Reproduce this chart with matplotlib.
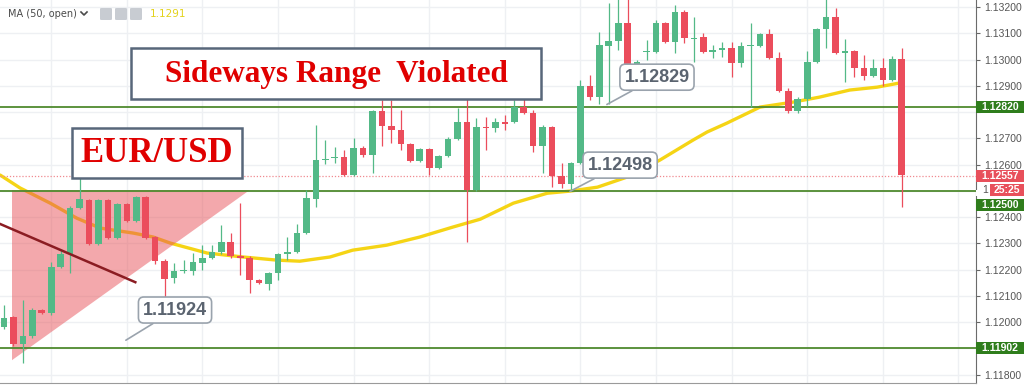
import matplotlib
matplotlib.use('Agg')
import matplotlib.pyplot as plt
from matplotlib.patches import Rectangle, Polygon, FancyBboxPatch
from matplotlib.lines import Line2D

# EUR/USD candles
opens = [
    1.11981, 1.12019, 1.11916, 1.11947, 1.12046, 1.12034, 1.12210, 1.12259, 1.12434, 1.12465,
    1.12297, 1.12465, 1.12320, 1.12450, 1.12385, 1.12476, 1.12324, 1.12232, 1.12168, 1.12194,
    1.12194, 1.12225, 1.12244, 1.12267, 1.12305, 1.12251, 1.12244, 1.12160, 1.12145, 1.12187,
    1.12259, 1.12267, 1.12339, 1.12469, 1.12617, 1.12625, 1.12629, 1.12560, 1.12663, 1.12636,
    1.12804, 1.12747, 1.12732, 1.12678, 1.12613, 1.12659, 1.12587, 1.12632, 1.12697, 1.12762,
    1.12503, 1.12743, 1.12739, 1.12762, 1.12762, 1.12819, 1.12796, 1.12671, 1.12743, 1.12556,
    1.12526, 1.12606, 1.12899, 1.12857, 1.13052, 1.13071, 1.13139, 1.12975, 1.13029, 1.13029,
    1.13139, 1.13067, 1.13181, 1.13080, 1.13086, 1.13029, 1.13036, 1.13044, 1.12987, 1.13050,
    1.13052, 1.13097, 1.13006, 1.12880, 1.12804, 1.12850, 1.12991, 1.13116, 1.13162, 1.13027,
    1.13033, 1.12968, 1.12937, 1.12968, 1.12922, 1.13002]
highs = [
    1.12065, 1.12023, 1.12084, 1.12053, 1.12050, 1.12229, 1.12274, 1.12442, 1.12549, 1.12469,
    1.12469, 1.12469, 1.12453, 1.12453, 1.12480, 1.12480, 1.12328, 1.12240, 1.12225, 1.12236,
    1.12263, 1.12293, 1.12293, 1.12370, 1.12339, 1.12453, 1.12251, 1.12164, 1.12191, 1.12263,
    1.12324, 1.12373, 1.12503, 1.12751, 1.12693, 1.12667, 1.12655, 1.12701, 1.12671, 1.12808,
    1.12846, 1.12846, 1.12808, 1.12682, 1.12663, 1.12663, 1.12636, 1.12705, 1.12815, 1.12872,
    1.12777, 1.12781, 1.12777, 1.12789, 1.12846, 1.12872, 1.12808, 1.12750, 1.12747, 1.12606,
    1.12610, 1.12922, 1.12941, 1.13105, 1.13215, 1.13240, 1.13235, 1.12998, 1.13074, 1.13151,
    1.13143, 1.13208, 1.13190, 1.13162, 1.13101, 1.13055, 1.13067, 1.13067, 1.13067, 1.13139,
    1.13101, 1.13116, 1.13029, 1.12892, 1.12858, 1.13032, 1.13120, 1.13230, 1.13196, 1.13078,
    1.13037, 1.13017, 1.13002, 1.13006, 1.13013, 1.13044]
lows = [
    1.11973, 1.11909, 1.11844, 1.11939, 1.12030, 1.12027, 1.12206, 1.12187, 1.12431, 1.12293,
    1.12293, 1.12316, 1.12316, 1.12381, 1.12381, 1.12316, 1.12221, 1.12091, 1.12149, 1.12187,
    1.12179, 1.12198, 1.12240, 1.12259, 1.12244, 1.12179, 1.12110, 1.12145, 1.12122, 1.12160,
    1.12236, 1.12263, 1.12335, 1.12438, 1.12602, 1.12606, 1.12556, 1.12556, 1.12629, 1.12568,
    1.12671, 1.12682, 1.12655, 1.12609, 1.12609, 1.12560, 1.12583, 1.12628, 1.12693, 1.12305,
    1.12499, 1.12655, 1.12724, 1.12732, 1.12758, 1.12792, 1.12648, 1.12568, 1.12514, 1.12510,
    1.12498, 1.12602, 1.12846, 1.12830, 1.12829, 1.13036, 1.12968, 1.12968, 1.12998, 1.13025,
    1.13063, 1.13025, 1.13063, 1.12991, 1.13025, 1.13006, 1.13010, 1.12933, 1.12972, 1.12819,
    1.13048, 1.13002, 1.12876, 1.12796, 1.12796, 1.12823, 1.12987, 1.13044, 1.13021, 1.12914,
    1.12933, 1.12922, 1.12933, 1.12899, 1.12918, 1.12438]
closes = [
    1.12015, 1.11916, 1.11947, 1.12046, 1.12034, 1.12210, 1.12259, 1.12434, 1.12469, 1.12297,
    1.12465, 1.12320, 1.12450, 1.12385, 1.12476, 1.12320, 1.12232, 1.12164, 1.12194, 1.12198,
    1.12229, 1.12244, 1.12267, 1.12305, 1.12251, 1.12244, 1.12160, 1.12149, 1.12187, 1.12259,
    1.12267, 1.12339, 1.12472, 1.12617, 1.12623, 1.12629, 1.12560, 1.12663, 1.12636, 1.12804,
    1.12747, 1.12732, 1.12678, 1.12613, 1.12659, 1.12587, 1.12632, 1.12697, 1.12762, 1.12503,
    1.12743, 1.12739, 1.12762, 1.12756, 1.12819, 1.12796, 1.12671, 1.12743, 1.12556, 1.12526,
    1.12606, 1.12899, 1.12857, 1.13055, 1.13071, 1.13139, 1.12975, 1.12991, 1.13032, 1.13139,
    1.13067, 1.13181, 1.13082, 1.13082, 1.13029, 1.13036, 1.13044, 1.12987, 1.13052, 1.13052,
    1.13097, 1.13006, 1.12880, 1.12804, 1.12850, 1.12991, 1.13116, 1.13162, 1.13025, 1.13029,
    1.12968, 1.12937, 1.12968, 1.12922, 1.13002, 1.12560]

# MA(50, open) as read at some bars
ma_idx = [-0.4, 1.7, 4.9, 7.7, 10.2, 13.7, 15.8, 17.6, 21.5, 25.3, 28.9, 31.3, 34.5, 36.9,
          40.5, 44.0, 47.5, 50.4, 53.9, 57.5, 59.9, 62.8, 65.9, 69.4, 72.9, 74.4, 76.5,
          80.0, 83.5, 86.3, 89.5, 92.4, 94.8]
ma_val = [1.12560, 1.12511, 1.12453, 1.12396, 1.12358, 1.12339, 1.12324, 1.12301, 1.12263,
          1.12248, 1.12236, 1.12232, 1.12248, 1.12274, 1.12293, 1.12324, 1.12362, 1.12392,
          1.12453, 1.12491, 1.12499, 1.12514, 1.12552, 1.12617, 1.12693, 1.12724, 1.12758,
          1.12819, 1.12838, 1.12857, 1.12884, 1.12895, 1.12911]

yticks = [1.118, 1.119, 1.120, 1.121, 1.122, 1.123, 1.124, 1.125, 1.126, 1.127,
          1.128, 1.129, 1.130, 1.131, 1.132]
hidden_ticks = [1.119, 1.125, 1.128]   # covered by the level labels
levels = [1.12820, 1.12500, 1.11902]
last_price = 1.12557
callouts = [('1.12829', 63.8, 1.12829), ('1.12498', 59.9, 1.12498), ('1.11924', 12.9, 1.11931)]

GREEN = '#53b987'
RED = '#eb4d5c'
W, H = 1024, 385


def fig_xy(px, py):
    # pixel (from top-left) -> figure fraction
    return px / W, 1 - py / H


fig = plt.figure(figsize=(W / 100, H / 100), dpi=100)
ax = fig.add_axes([0, 2 / H, 976 / W, 383 / H])
ax.set_xlim(-0.42, 102.86)
ax.set_ylim(1.11768, 1.13227)

# grid
for t in yticks:
    ax.axhline(t, color='#eef0f3', lw=1, zorder=0)
for g in range(5, 102, 8):
    ax.axvline(g, color='#eef0f3', lw=1, zorder=0)

# MA line (under the triangle so it turns orange there)
ax.plot(ma_idx, ma_val, color='#f5d415', lw=2.4, zorder=1.4, solid_capstyle='round')

# pink triangle + red trendline
tri = Polygon([(0.85, 1.12503), (26.0, 1.12503), (0.85, 1.11855)], closed=True,
              facecolor='#e8535a', alpha=0.5, edgecolor='none', zorder=1.5)
ax.add_patch(tri)
ax.plot([-0.42, 13.9], [1.12374, 1.12152], color='#8b1c22', lw=1.8, zorder=4)

# levels
for lv in levels:
    ax.axhline(lv, color='#4f8a2e', lw=1.3, zorder=2)
ax.axhline(last_price, color='#f08a90', lw=0.9, ls=(0, (1, 1.5)), zorder=2)

# candles
x = list(range(len(opens)))
cols = [GREEN if c >= o else RED for o, c in zip(opens, closes)]
ax.vlines(x, lows, highs, colors=cols, lw=0.9, zorder=3)
bottoms = [min(o, c) for o, c in zip(opens, closes)]
heights = [max(abs(c - o), 0.00004) for o, c in zip(opens, closes)]
ax.bar(x, heights, bottom=bottoms, width=0.7, color=cols, zorder=3.1, linewidth=0)

# right price axis
ax.yaxis.tick_right()
ax.set_yticks(yticks)
ax.set_yticklabels(['' if t in hidden_ticks else '%.5f' % t for t in yticks],
                   family='Liberation Sans')
ax.tick_params(axis='y', labelsize=7.5, colors='#666666', labelcolor='#555555', length=3, pad=3)
ax.set_xticks([])
for s in ['top', 'left']:
    ax.spines[s].set_visible(False)
ax.spines['right'].set_color('#6b6b6b')
ax.spines['bottom'].set_color('#9a9a9a')

# price labels on the axis
trans = ax.get_yaxis_transform()
box_w = (W - 976) / 976
for txt, y, fc in [('1.12820', 1.12820, '#2f7d1c'), ('1.12500', 1.12446, '#2f7d1c'),
                   ('1.11902', 1.11902, '#2f7d1c'), ('1.12557', 1.12557, '#e8505b')]:
    ax.add_patch(Rectangle((1.0, y - 0.00024), box_w, 0.00048, transform=trans,
                           facecolor=fc, edgecolor='none', clip_on=False, zorder=5))
    ax.text(1.0 + box_w / 2, y, txt, transform=trans, ha='center', va='center',
            fontsize=7.5, color='white', fontweight='bold', family='Liberation Sans',
            clip_on=False, zorder=6)
ax.add_patch(Rectangle((1.0, 1.12480), box_w, 0.00025, transform=trans,
                       facecolor='white', edgecolor='none', clip_on=False, zorder=5))
ax.add_patch(Rectangle((1.0 + 14 / 976, 1.12480), box_w - 14 / 976, 0.00046, transform=trans,
                       facecolor='#e8505b', edgecolor='none', clip_on=False, zorder=5))
ax.text(1.0 + 9 / 976, 1.12503, '1', transform=trans, ha='center', va='center',
        fontsize=7.5, color='#555555', family='Liberation Sans', clip_on=False, zorder=6)
ax.text(1.0 + 31 / 976, 1.12503, '25:25', transform=trans, ha='center', va='center',
        fontsize=7.5, color='white', fontweight='bold', family='Liberation Sans',
        clip_on=False, zorder=6)

# callouts
co_boxes = {'1.12829': (69.1, 1.12933), '1.12498': (65.2, 1.12598), '1.11924': (18.1, 1.12046)}
for txt, xi, yv in callouts:
    bx, by = co_boxes[txt]
    ax.annotate(txt, xy=(xi, yv), xytext=(bx, by), ha='center', va='center',
                fontsize=13, fontweight='bold', color='#5b6470', family='Liberation Sans',
                bbox=dict(boxstyle='round,pad=0.25,rounding_size=0.3', fc='white', ec='#9aa3ad', lw=1.2),
                arrowprops=dict(arrowstyle='-', color='#9aa3ad', lw=1.2, shrinkA=0, shrinkB=0),
                zorder=7)

# title boxes
for (x0, y0, x1, y1), txt, fs in [((72, 128, 242, 178), 'EUR/USD', 25),
                                  ((131, 48, 541, 99), 'Sideways Range  Violated', 22.5)]:
    fx0, fy1 = fig_xy(x0, y1)
    fx1, fy0 = fig_xy(x1, y0)
    fig.patches.append(Rectangle((fx0, fy1), fx1 - fx0, fy0 - fy1, transform=fig.transFigure,
                                 facecolor='white', edgecolor='#58677a', lw=1.8, zorder=8))
    cx, cy = fig_xy((x0 + x1) / 2, (y0 + y1) / 2 + 1)
    fig.text(cx, cy, txt, ha='center', va='center', fontsize=fs, fontweight='bold',
             color='#e00000', family='Liberation Serif', zorder=9)

# top-left legend
lx, ly = fig_xy(8, 14)
fig.text(lx, ly, 'MA (50, open)', ha='left', va='center', fontsize=7, color='#4a4a4a')
cx0, cy0 = fig_xy(81, 12)
cx1, cy1 = fig_xy(84, 15)
cx2, cy2 = fig_xy(87, 12)
fig.lines.append(Line2D([cx0, cx1, cx2], [cy0, cy1, cy2], transform=fig.transFigure,
                        color='#4a4a4a', lw=1.2))
for ix in [100, 115, 130]:
    bx0, by0 = fig_xy(ix, 20)
    fig.patches.append(FancyBboxPatch((bx0, by0), 12 / W, 12 / H, transform=fig.transFigure,
                                      boxstyle='round,pad=0,rounding_size=0.002',
                                      facecolor='#c8ccd2', edgecolor='none'))
tx, ty = fig_xy(150, 14)
fig.text(tx, ty, '1.1291', ha='left', va='center', fontsize=7.5, color='#e3d21c')

fig.savefig('out.png', dpi=100)
